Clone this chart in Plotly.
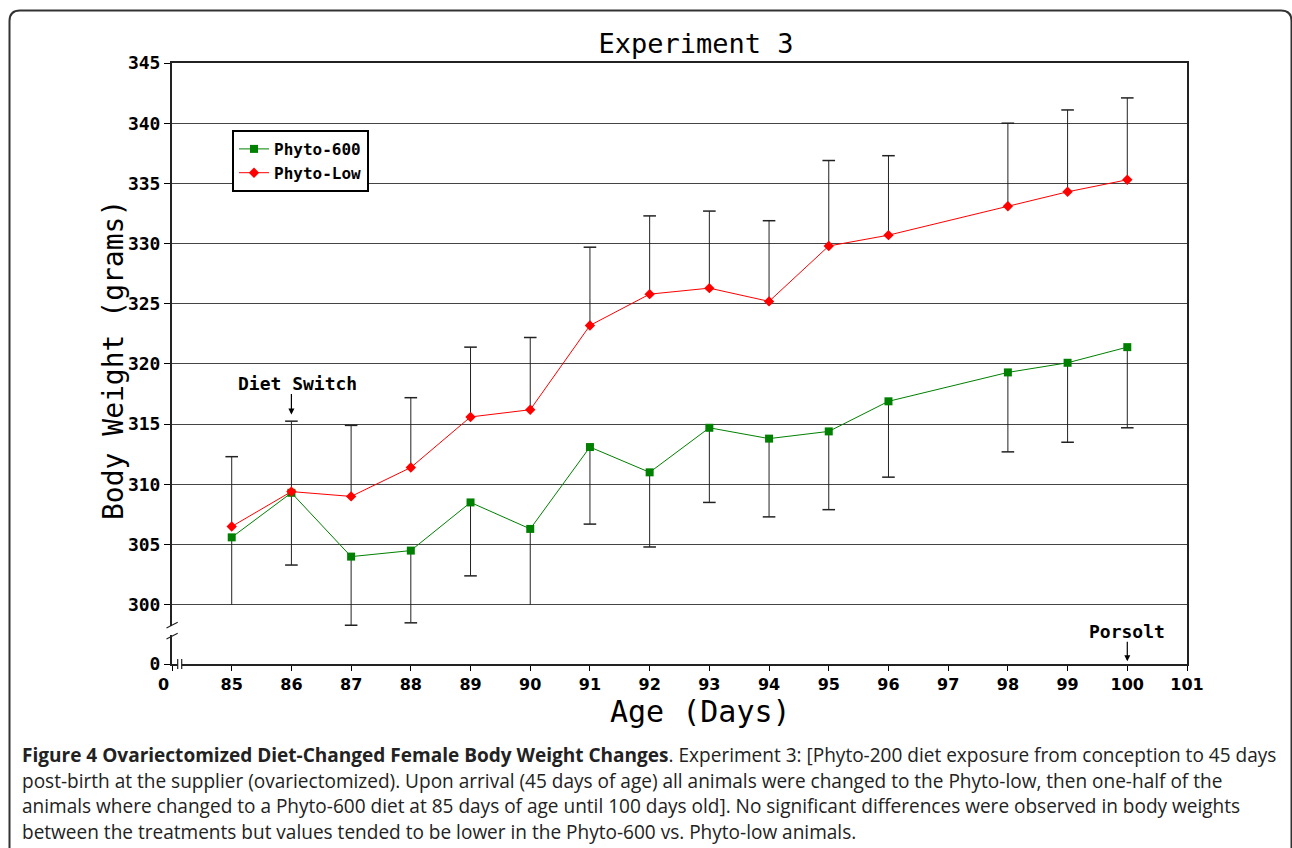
import plotly.graph_objects as go

# ---------------- data ----------------
days = [85, 86, 87, 88, 89, 90, 91, 92, 93, 94, 95, 96, 98, 99, 100]
phyto600 = [305.6, 309.3, 304.0, 304.5, 308.5, 306.3, 313.1, 311.0, 314.7, 313.8, 314.4, 316.9, 319.3, 320.1, 321.4]
phyto600_lower = [300.0, 303.3, 298.3, 298.5, 302.4, 300.0, 306.7, 304.8, 308.5, 307.3, 307.9, 310.6, 312.7, 313.5, 314.7]
phyto600_clipped_days = [85, 90]  # lower bars cut at the axis break (no cap)
phyto_low = [306.5, 309.4, 309.0, 311.4, 315.6, 316.2, 323.2, 325.8, 326.3, 325.2, 329.8, 330.7, 333.1, 334.3, 335.3]
phyto_low_upper = [312.3, 315.25, 314.9, 317.2, 321.4, 322.2, 329.7, 332.3, 332.7, 331.9, 336.9, 337.3, 340.0, 341.1, 342.1]

x_ticks = [85, 86, 87, 88, 89, 90, 91, 92, 93, 94, 95, 96, 97, 98, 99, 100, 101]
y_ticks = [300, 305, 310, 315, 320, 325, 330, 335, 340, 345]
x_break = 84.0      # position standing for "0" on the broken x axis
y_break = 295.08    # position standing for "0" on the broken y axis

caption_lines = [
    "<b>Figure 4 Ovariectomized Diet-Changed Female Body Weight Changes</b>. Experiment 3: [Phyto-200 diet exposure from conception to 45 days",
    "post-birth at the supplier (ovariectomized). Upon arrival (45 days of age) all animals were changed to the Phyto-low, then one-half of the",
    "animals where changed to a Phyto-600 diet at 85 days of age until 100 days old]. No significant differences were observed in body weights",
    "between the treatments but values tended to be lower in the Phyto-600 vs. Phyto-low animals.",
]

# ---------------- geometry helpers (pixel -> paper) ----------------
W, H = 1292, 848
L, R, T, B = 172, 105, 63, 184
PW, PH = W - L - R, H - T - B


def px(x):
    return (x - L) / PW


def py(y):
    return (H - B - y) / PH


MONO = "DejaVu Sans Mono"
ERR = "#222222"

fig = go.Figure()

# ---- error bars as line segments built from data ----
ex, ey = [], []
for d, m, lo in zip(days, phyto600, phyto600_lower):
    ex += [d, d, None]
    ey += [m, lo, None]
for d, m, hi in zip(days, phyto_low, phyto_low_upper):
    ex += [d, d, None]
    ey += [m, hi, None]
fig.add_trace(go.Scatter(x=ex, y=ey, mode="lines", line=dict(color=ERR, width=1),
                         showlegend=False, hoverinfo="skip"))

cap_x = [d for d in days if d not in phyto600_clipped_days] + days
cap_y = [lo for d, lo in zip(days, phyto600_lower) if d not in phyto600_clipped_days] + phyto_low_upper
fig.add_trace(go.Scatter(x=cap_x, y=cap_y, mode="markers",
                         marker=dict(symbol="line-ew", size=9, line=dict(color=ERR, width=1.5)),
                         showlegend=False, hoverinfo="skip"))

# ---- main series ----
fig.add_trace(go.Scatter(x=days, y=phyto600, mode="lines+markers", name="Phyto-600",
                         line=dict(color="#008000", width=1),
                         marker=dict(symbol="square", size=8, color="#008000")))
fig.add_trace(go.Scatter(x=days, y=phyto_low, mode="lines+markers", name="Phyto-Low",
                         line=dict(color="#ff0000", width=1),
                         marker=dict(symbol="diamond", size=8, color="#ff0000")))

fig.update_layout(
    width=W, height=H,
    margin=dict(l=L, r=R, t=T, b=B, pad=0),
    paper_bgcolor="white", plot_bgcolor="white",
    showlegend=True,
    legend=dict(x=px(232), y=py(130), xanchor="left", yanchor="top",
                bgcolor="white", bordercolor="black", borderwidth=2,
                font=dict(family=MONO, size=16, color="black", weight="bold"),
                itemwidth=30, tracegroupgap=0),
    title=dict(text="Experiment 3", x=px(696), xref="paper", xanchor="center",
               y=1 - 44 / H, yref="container", yanchor="middle",
               font=dict(family=MONO, size=27, color="black")),
)

fig.update_xaxes(
    range=[x_break, 101],
    tickmode="array", tickvals=[x_break] + x_ticks,
    ticktext=["0\u00a0\u00a0\u00a0"] + [str(v) for v in x_ticks],
    ticks="outside", ticklen=5, tickwidth=1, tickcolor="black",
    tickfont=dict(family="DejaVu Sans", size=16, color="black", weight="bold"),
    showline=True, linewidth=2, linecolor="#222", mirror=True,
    showgrid=False, zeroline=False,
)
fig.update_yaxes(
    range=[y_break, 345],
    tickmode="array", tickvals=[y_break] + y_ticks,
    ticktext=["0"] + [str(v) for v in y_ticks],
    ticks="outside", ticklen=6, tickwidth=1, tickcolor="black",
    tickfont=dict(family=MONO, size=18, color="black", weight="bold"),
    showline=True, linewidth=2, linecolor="#222", mirror=True,
    showgrid=True, gridcolor="#444", gridwidth=1, zeroline=False,
)

annotations = [
    dict(text="Body Weight (grams)", x=px(113), y=py(360), xref="paper", yref="paper",
         textangle=-90, showarrow=False, xanchor="center", yanchor="middle",
         font=dict(family=MONO, size=28, color="black")),
    dict(text="Age (Days)", x=px(700), y=py(711), xref="paper", yref="paper",
         showarrow=False, xanchor="center", yanchor="middle",
         font=dict(family=MONO, size=30, color="black")),
    dict(text="Diet Switch", x=86, y=318.4, xref="x", yref="y", xshift=6,
         showarrow=False, xanchor="center", yanchor="middle",
         font=dict(family=MONO, size=18, color="black", weight="bold")),
    dict(text="", x=86, y=315.8, xref="x", yref="y", showarrow=True,
         ax=0, ay=-22, arrowhead=2, arrowsize=1, arrowwidth=1.2, arrowcolor="black"),
    dict(text="Porsolt", x=100, y=297.74, xref="x", yref="y",
         showarrow=False, xanchor="center", yanchor="middle",
         font=dict(family=MONO, size=18, color="black", weight="bold")),
    dict(text="", x=100, y=295.3, xref="x", yref="y", showarrow=True,
         ax=0, ay=-21, arrowhead=2, arrowsize=1, arrowwidth=1.2, arrowcolor="black"),
]
cap_y_px = [755, 781, 806, 832]
for line, yy in zip(caption_lines, cap_y_px):
    annotations.append(dict(text=line, x=px(20), y=py(yy), xref="paper", yref="paper",
                            showarrow=False, xanchor="left", yanchor="middle", align="left",
                            font=dict(family="Open Sans", size=19.05, color="#222")))
fig.update_layout(annotations=annotations)

# ---- decorations: axis breaks and outer frame ----
shapes = [
    # gap in x axis line
    dict(type="rect", xref="paper", yref="paper", x0=px(177.7), x1=px(181.7),
         y0=py(666), y1=py(662), fillcolor="white", line=dict(width=0), layer="above"),
    dict(type="line", xref="paper", yref="paper", x0=px(177.7), x1=px(177.7),
         y0=py(669), y1=py(659), line=dict(color="#222", width=1.2), layer="above"),
    dict(type="line", xref="paper", yref="paper", x0=px(181.7), x1=px(181.7),
         y0=py(669), y1=py(659), line=dict(color="#222", width=1.2), layer="above"),
    # gap in y axis line
    dict(type="rect", xref="paper", yref="paper", x0=px(169.5), x1=px(174.5),
         y0=py(635), y1=py(626), fillcolor="white", line=dict(width=0), layer="above"),
    dict(type="line", xref="paper", yref="paper", x0=px(166.5), x1=px(177.7),
         y0=py(628), y1=py(622.3), line=dict(color="#222", width=1.2), layer="above"),
    dict(type="line", xref="paper", yref="paper", x0=px(166.5), x1=px(177.7),
         y0=py(639), y1=py(633.3), line=dict(color="#222", width=1.2), layer="above"),
]
frame = (f"M {px(9.5)},{py(860)} L {px(9.5)},{py(21)} Q {px(9.5)},{py(10.5)} {px(20)},{py(10.5)} "
         f"L {px(1281)},{py(10.5)} Q {px(1291.5)},{py(10.5)} {px(1291.5)},{py(21)} L {px(1291.5)},{py(860)}")
shapes.append(dict(type="path", xref="paper", yref="paper", path=frame,
                   line=dict(color="#333", width=2), layer="above"))
fig.update_layout(shapes=shapes)

fig.write_html("out.html")
